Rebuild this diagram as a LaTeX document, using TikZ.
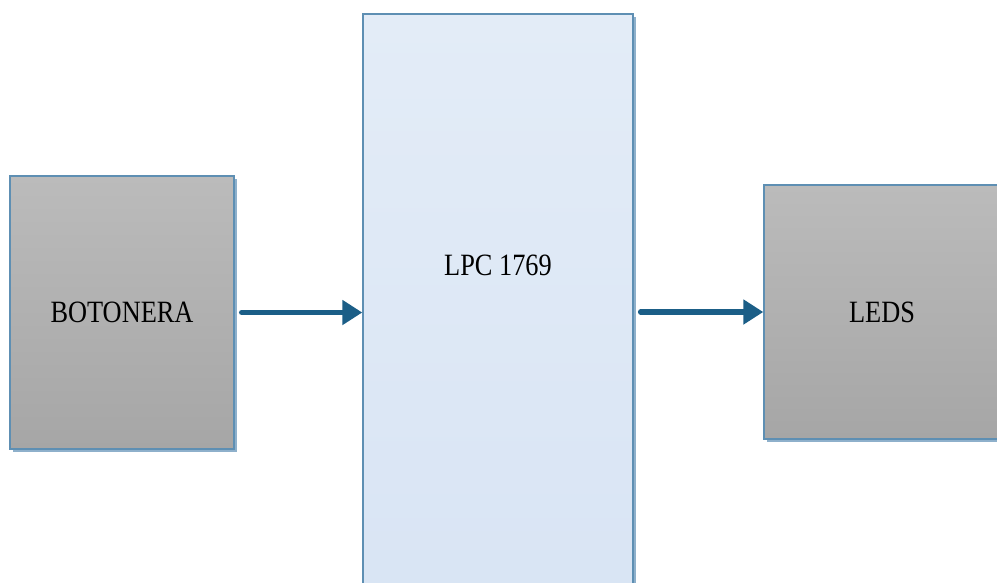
\documentclass[tikz,border=0pt]{standalone}
\usepackage{fontspec}
\newfontfamily\blocklabel[FakeStretch=0.85]{Liberation Serif}
\usetikzlibrary{arrows.meta,shadows}
\definecolor{edgeblue}{HTML}{5E8FB3}
\definecolor{shadowblue}{HTML}{8EB0CB}
\definecolor{arrowblue}{HTML}{1B5E87}
\definecolor{grayTop}{HTML}{BBBBBB}
\definecolor{grayBot}{HTML}{A6A6A6}
\definecolor{blueTop}{HTML}{E3ECF7}
\definecolor{blueBot}{HTML}{D8E4F4}
\tikzset{
  labelfont/.style={font=\blocklabel\fontsize{31}{34}\selectfont},
  block/.style={draw=edgeblue, line width=1.4pt, rectangle, inner sep=0pt,
    drop shadow={shadow xshift=3pt, shadow yshift=-3pt, fill=shadowblue, opacity=1},
    labelfont},
  grayblock/.style={block, top color=grayTop, bottom color=grayBot},
  blueblock/.style={block, top color=blueTop, bottom color=blueBot},
  flow/.style={draw=arrowblue, line width=5.5pt, line cap=round,
    -{Triangle[length=20pt,width=24pt]}}
}
\begin{document}
\begin{tikzpicture}[x=1pt,y=-1pt]
  \useasboundingbox (0,0) rectangle (997,582);
  % input block
  \node[grayblock, minimum width=224pt, minimum height=273pt] (bot) at (122,312.5) {BOTONERA};
  % microcontroller block (runs past the lower edge)
  \node[blueblock, minimum width=270pt, minimum height=620pt] (lpc) at (498,324) {};
  \node[labelfont, inner sep=0pt] (lpctext) at (498,265) {LPC 1769};
  % output block (runs past the right edge)
  \node[grayblock, minimum width=236pt, minimum height=254pt] (leds) at (882,312) {LEDS};
  % signal flow
  \draw[flow] ([xshift=7pt]bot.east) -- (lpc.west |- bot.east);
  \draw[flow] ([xshift=7pt]lpc.east |- leds.west) -- (leds.west);
\end{tikzpicture}
\end{document}
